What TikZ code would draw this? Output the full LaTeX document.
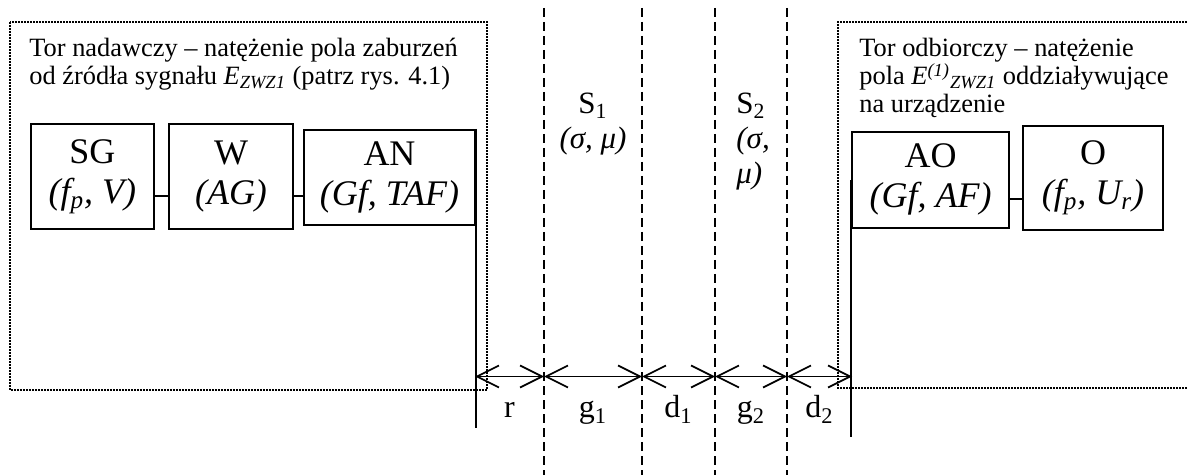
\documentclass[tikz,border=0pt]{standalone}
\usepackage{fontspec}
\setmainfont{Liberation Serif}
\usetikzlibrary{arrows.meta}

\begin{document}
\begin{tikzpicture}[x=0.5pt,y=-0.5pt,
    blok/.style={draw, line width=1pt, inner sep=0pt, align=center,
        font=\fontsize{18}{20}\selectfont},
    opis/.style={inner sep=0pt, align=left, font=\fontsize{13.2}{14}\selectfont},
    warstwa/.style={inner sep=0pt, font=\fontsize{15.5}{17.5}\selectfont},
    ramka/.style={line width=0.9pt, dash pattern=on 0.8pt off 0.7pt},
    granica/.style={line width=0.9pt, dash pattern=on 4.5pt off 2.5pt},
    wymiar/.style={line width=0.85pt,
        {Straight Barb[length=11pt,width=11pt]}-{Straight Barb[length=11pt,width=11pt]}},
    miara/.style={inner sep=0pt, text height=11pt, text depth=3pt,
        font=\fontsize{16}{18}\selectfont}]

    % パラメータの定義
    \pgfmathsetmacro{\yA}{376.5}
    \pgfmathsetmacro{\yN}{428}
    \pgfmathsetmacro{\yO}{437}

    \useasboundingbox (0,0) rectangle (1187,475);

    % 座標の定義
    \coordinate (linkN) at (0,196);
    \coordinate (linkO) at (0,199);
    \coordinate (P0) at (475,\yA);
    \coordinate (P1) at (544,\yA);
    \coordinate (P2) at (642,\yA);
    \coordinate (P3) at (715,\yA);
    \coordinate (P4) at (787,\yA);
    \coordinate (P5) at (852,\yA);

    % 点線の枠
    \draw[ramka] (10,22) rectangle (487,390);
    \draw[ramka] (1190,22) -- (838,22) -- (838,388) -- (1190,388);

    % 破線（境界）
    \foreach \x in {544,642,715,787}
        \draw[granica] (\x,8) -- (\x,475);

    % 説明文
    \node[opis, anchor=north west] (naglN) at (29,38)
        {Tor nadawczy – natężenie pola zaburzeń\\
         od źródła sygnału \textit{E\textsubscript{ZWZ1}} (patrz rys. 4.1)};
    \node[opis, anchor=north west] (naglO) at (859,38)
        {Tor odbiorczy – natężenie\\
         pola \textit{E\textsuperscript{(1)}\textsubscript{ZWZ1}} oddziaływujące\\
         na urządzenie};

    % ブロック
    \node[blok, minimum width=61.5pt, minimum height=52.5pt] (SG) at (92.3,176.5)
        {SG\\\textit{(f\textsubscript{p}, V)}};
    \node[blok, minimum width=62pt, minimum height=52.5pt] (W) at (231,176.5)
        {W\\\textit{(AG)}};
    \node[blok, minimum width=85.5pt, minimum height=47.5pt] (AN) at (389.5,177.5)
        {AN\\\textit{(Gf, TAF)}};
    \node[blok, minimum width=78.5pt, minimum height=48pt] (AO) at (930.5,179.7)
        {AO\\\textit{(Gf, AF)}};
    \node[blok, minimum width=70pt, minimum height=52pt] (O) at (1093,178)
        {O\\\textit{(f\textsubscript{p}, U\textsubscript{r})}};

    % 層
    \node[warstwa, align=center, anchor=north] (S1) at (593,93)
        {S\textsubscript{1}\\\textit{(σ, μ)}};
    \node[warstwa, align=left, anchor=north west] (S2) at (736,93)
        {S\textsubscript{2}\\\textit{(σ,}\\\textit{μ)}};

    % 線の描画
    \draw[line width=1pt] (SG.east |- linkN) -- (W.west |- linkN);
    \draw[line width=1pt] (W.east |- linkN) -- (AN.west |- linkN);
    \draw[line width=1pt] (AO.east |- linkO) -- (O.west |- linkO);
    \draw[line width=1pt] (AN.north east) -- (AN.east |- 0,\yN);
    \draw[line width=1pt] (AO.west) -- (AO.west |- 0,\yO);

    % 寸法線
    \draw[wymiar] (P0) -- node[miara, below=9.25pt] (mr) {r} (P1);
    \draw[wymiar] (P1) -- node[miara, below=9.25pt] (mg1) {g\textsubscript{1}} (P2);
    \draw[wymiar] (P2) -- node[miara, below=9.25pt] (md1) {d\textsubscript{1}} (P3);
    \draw[wymiar] (P3) -- node[miara, below=9.25pt] (mg2) {g\textsubscript{2}} (P4);
    \draw[wymiar] (P4) -- node[miara, below=9.25pt] (md2) {d\textsubscript{2}} (P5);

\end{tikzpicture}
\end{document}
